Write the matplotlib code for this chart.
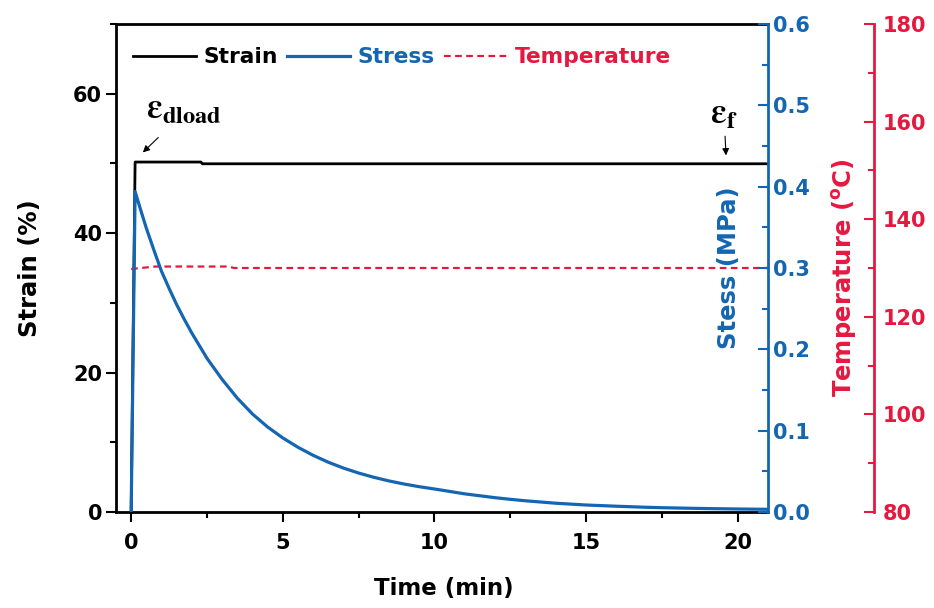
import matplotlib
matplotlib.use("Agg")
import matplotlib.pyplot as plt
from matplotlib.ticker import MultipleLocator, AutoMinorLocator

plt.rcParams['font.family'] = ['DejaVu Sans']
plt.rcParams['font.weight'] = 'bold'
plt.rcParams['axes.labelweight'] = 'bold'
plt.rcParams['mathtext.default'] = 'bf'

BLUE = '#1466B2'
RED = '#E5193F'

# data
time_strain = [0, 0.13, 2.3, 2.35, 21.0]
strain = [0, 50.2, 50.2, 49.95, 49.95]

time_stress = [0, 0.13, 0.3, 0.5, 0.75, 1.0, 1.25, 1.5, 1.75, 2.0, 2.5, 3.0, 3.5, 4.0,
               4.5, 5.0, 5.5, 6.0, 6.5, 7.0, 7.5, 8.0, 8.5, 9.0, 9.5, 10.0, 11.0, 12.0,
               12.5, 13.0, 14.0, 15.0, 16.0, 17.0, 17.5, 18.0, 19.0, 20.0, 21.0]
stress = [0, 0.394, 0.373, 0.349, 0.322, 0.296, 0.275, 0.255, 0.237, 0.220, 0.189,
          0.163, 0.140, 0.1205, 0.1045, 0.0911, 0.0796, 0.0697, 0.0612, 0.054, 0.0479,
          0.0427, 0.0382, 0.0344, 0.0311, 0.0283, 0.0223, 0.0176, 0.0156, 0.0138,
          0.0108, 0.0086, 0.0071, 0.0058, 0.0053, 0.0049, 0.0042, 0.0037, 0.0033]

time_temp = [0, 0.8, 3.2, 3.4, 21.0]
temp = [129.8, 130.3, 130.3, 130.0, 130.0]

fig = plt.figure(figsize=(9.34, 6.08), dpi=100)
ax = fig.add_axes([116/934, 1 - 512/608, 652/934, 488/608])
ax_t = ax.twinx()
ax_s = ax.twinx()

l1, = ax.plot(time_strain, strain, color='black', lw=2.0, label='Strain')
l3, = ax_t.plot(time_temp, temp, color=RED, lw=1.6, dashes=(3, 2), label='Temperature')
l2, = ax_s.plot(time_stress, stress, color=BLUE, lw=2.3, label='Stress',
                solid_joinstyle='round')

ax.set_xlim(-0.5, 21)
ax.set_ylim(0, 70)
ax_s.set_ylim(0, 0.6)
ax_t.set_ylim(80, 180)

ax.xaxis.set_major_locator(MultipleLocator(5))
ax.xaxis.set_minor_locator(AutoMinorLocator(2))
ax.yaxis.set_major_locator(MultipleLocator(20))
ax.yaxis.set_minor_locator(AutoMinorLocator(2))
ax_s.yaxis.set_major_locator(MultipleLocator(0.1))
ax_s.yaxis.set_minor_locator(AutoMinorLocator(2))
ax_t.yaxis.set_major_locator(MultipleLocator(20))
ax_t.yaxis.set_minor_locator(AutoMinorLocator(2))
ax_s.yaxis.set_major_formatter(plt.FormatStrFormatter('%.1f'))

# spines
for s in ax.spines.values():
    s.set_linewidth(2)
ax.spines['right'].set_visible(False)
for a in (ax_t, ax_s):
    for k in ('left', 'top', 'bottom'):
        a.spines[k].set_visible(False)
    a.spines['right'].set_linewidth(2)
ax_s.spines['right'].set_color(BLUE)
ax_t.spines['right'].set_color(RED)
ax_t.spines['right'].set_position(('axes', 1 + 106/652))

ax.tick_params(axis='x', which='major', direction='out', length=7, width=1.5, labelsize=15, pad=8)
ax.tick_params(axis='x', which='minor', direction='out', length=4, width=1.5)
ax.tick_params(axis='y', which='major', direction='out', length=7, width=1.5, labelsize=15, pad=3)
ax.tick_params(axis='y', which='minor', direction='out', length=4, width=1.5)
ax_s.tick_params(axis='y', which='major', direction='in', length=7.5, width=1.5, labelsize=15,
                 pad=3.5, colors=BLUE)
ax_s.tick_params(axis='y', which='minor', direction='in', length=4, width=1.5, colors=BLUE)
ax_t.tick_params(axis='y', which='major', direction='in', length=7.5, width=1.5, labelsize=15,
                 pad=6.5, colors=RED)
ax_t.tick_params(axis='y', which='minor', direction='in', length=4, width=1.5, colors=RED)

ax.set_xlabel('Time (min)', fontsize=16.5)
ax.xaxis.set_label_coords(0.503, -0.133)
ax.set_ylabel('Strain (%)', fontsize=17.5)
ax.yaxis.set_label_coords(-0.1135, 0.5)
ax_s.set_ylabel('Stess (MPa)', fontsize=17.5, color=BLUE, rotation=90)
ax_s.yaxis.set_label_coords(0.922, 0.5)
ax_t.set_ylabel(r'Temperature ($\mathregular{^{o}}$C)', fontsize=17.5, color=RED, rotation=90)
ax_t.yaxis.set_label_coords(1.095, 0.48)

# annotations
ax.text(0.5, 56.5, r'$\varepsilon_{\mathbf{dload}}$', fontsize=25, math_fontfamily='stix')
ax.annotate('', xy=(0.32, 51.3), xytext=(0.96, 54.0),
            arrowprops=dict(arrowstyle='-|>', color='black', lw=0.8, mutation_scale=10))
ax.text(19.1, 55.6, r'$\varepsilon_{\mathbf{f}}$', fontsize=25, math_fontfamily='stix')
ax.annotate('', xy=(19.62, 50.75), xytext=(19.58, 54.3),
            arrowprops=dict(arrowstyle='-|>', color='black', lw=0.8, mutation_scale=10))

leg = ax_s.legend(handles=[l1, l2, l3], loc='center left', bbox_to_anchor=(0.026, 0.932),
                  ncol=3, frameon=False, fontsize=15.7, handlelength=2.9, handletextpad=0.35,
                  columnspacing=0.4, borderpad=0, borderaxespad=0, labelcolor='linecolor')

fig.savefig('out.png', dpi=100)
